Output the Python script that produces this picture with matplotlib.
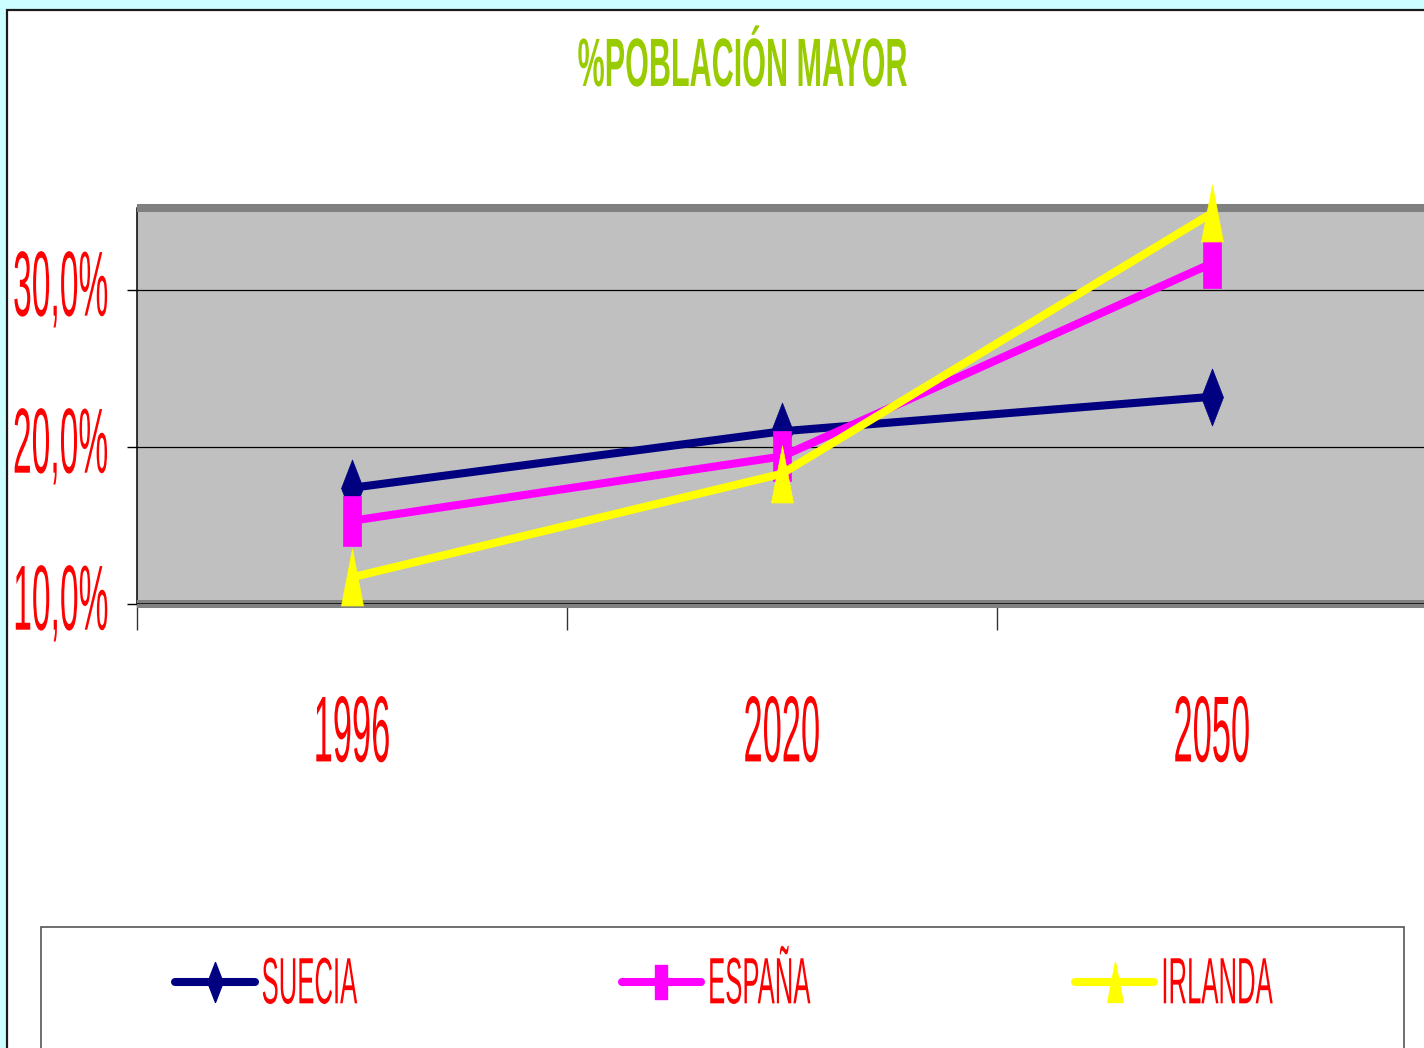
import matplotlib
matplotlib.use("Agg")
import matplotlib.pyplot as plt
from matplotlib.patches import Rectangle
from matplotlib.path import Path
from matplotlib.lines import Line2D
from matplotlib.patheffects import AbstractPathEffect
from matplotlib.transforms import Affine2D
from matplotlib.ticker import FuncFormatter, FixedLocator

# datos (porcentaje de población mayor)
anios = ["1996", "2020", "2050"]
suecia = [17.4, 21.0, 23.2]
espana = [15.3, 19.4, 31.7]
irlanda = [11.7, 18.3, 34.9]
paises = ["SUECIA", "ESPAÑA", "IRLANDA"]
colores = ["#000080", "#FF00FF", "#FFFF00"]
y_ticks = [10, 20, 30]
titulo = "%POBLACIÓN MAYOR"

W, H = 1424, 1048
plt.rcParams['font.family'] = ['Liberation Sans', 'DejaVu Sans']


# el original tiene letras muy altas y estrechas -> estiro el texto en vertical
class Estirar(AbstractPathEffect):
    def __init__(self, sy, y0=36, dy=0):
        super().__init__()
        self.sy, self.y0, self.dy = sy, y0, dy

    def draw_path(self, renderer, gc, tpath, affine, rgbFace=None):
        t = (Affine2D().translate(0, -self.y0).scale(1, self.sy).translate(0, self.y0)
             + affine + Affine2D().translate(0, self.dy))
        renderer.draw_path(gc, tpath, t, rgbFace)


# marcadores alargados
def marcador(verts):
    return Path(verts + [verts[0]], [Path.MOVETO] + [Path.LINETO] * (len(verts) - 1) + [Path.CLOSEPOLY])

rombo = marcador([(0, 0.5), (0.193, 0), (0, -0.5), (-0.193, 0)])
cuadro = marcador([(-0.184, 0.5), (0.184, 0.5), (0.184, -0.5), (-0.184, -0.5)])
triangulo = marcador([(0, 0.5), (0.193, -0.5), (-0.193, -0.5)])

fig = plt.figure(figsize=(W / 100, H / 100), dpi=100, facecolor="#CCFFFF")

# fondo blanco del gráfico
fig.add_artist(Rectangle((6.5 / W, -0.05), 1.1, (H - 9.5) / H + 0.05, transform=fig.transFigure,
                         facecolor="white", edgecolor="#1a1a1a", lw=1.6, zorder=-2))
# caja de la leyenda
fig.add_artist(Rectangle((41 / W, -0.05), (1404 - 41) / W, (H - 927) / H + 0.05, transform=fig.transFigure,
                         facecolor="none", edgecolor="#555555", lw=1.2, zorder=-1))

ax = fig.add_axes([137 / W, (H - 604) / H, (1427 - 137) / W, (604 - 208) / H])
ax.set_facecolor("#C0C0C0")
x = range(len(anios))
series = [suecia, espana, irlanda]
marcas = [rombo, cuadro, triangulo]
tams = [41, 35.3, 41]
lineas = []
for vals, col, m, ms, nom in zip(series, colores, marcas, tams, paises):
    l, = ax.plot(x, vals, color=col, lw=5.8, marker=m, markersize=ms, markerfacecolor=col,
                 markeredgecolor=col, markeredgewidth=0.5, solid_capstyle="round",
                 clip_on=False, zorder=3, label=nom)
    lineas.append(l)

ax.set_xlim(-0.5, 2.5)
ax.set_ylim(10, 10 + 396 / 15.7)

# ejes y bordes
ax.spines["right"].set_visible(False)
for s in ["top", "bottom"]:
    ax.spines[s].set_color("#808080")
    ax.spines[s].set_linewidth(5.8)
    ax.spines[s].set_capstyle("butt")
ax.spines["left"].set_color("black")
ax.spines["left"].set_linewidth(1.1)
ax.axhline(10, color="black", lw=1.1, zorder=2.6)

ax.set_yticks(y_ticks)
ax.yaxis.set_major_formatter(FuncFormatter(lambda v, _: f"{v:.1f}%".replace(".", ",")))
ax.yaxis.grid(True, color="black", lw=0.9)
ax.tick_params(axis="y", direction="out", length=7.2, width=1, color="black", pad=13,
               labelsize=24.2, labelcolor="red")

ax.xaxis.set_major_locator(FixedLocator([-0.5, 0.5, 1.5, 2.5]))
ax.xaxis.set_major_formatter(FuncFormatter(lambda v, _: ""))
ax.set_xticks(list(x), anios, minor=True)
ax.tick_params(axis="x", which="major", direction="out", length=18.7, width=1, color="#333333")
ax.tick_params(axis="x", which="minor", length=0, pad=80.7, labelsize=24.8, labelcolor="red")

for t in ax.get_yticklabels():
    t.set_path_effects([Estirar(2.75, dy=7.5)])
for t in ax.get_xticklabels(minor=True):
    t.set_path_effects([Estirar(2.72)])

# titulo
fig.text(742 / W, 1 - 86 / H, titulo, ha="center", va="baseline", fontsize=22, fontweight="bold",
         color="#99CC00", path_effects=[Estirar(2.24, y0=0)])

# leyenda
handles = [Line2D([], [], color=l.get_color(), lw=5.8, marker=l.get_marker(), markersize=l.get_markersize(),
                  markerfacecolor=l.get_color(), markeredgecolor=l.get_color(), solid_capstyle="round")
           for l in lineas]
leg = fig.legend(handles, paises, loc="center", bbox_to_anchor=(175 / W, 1 - 984 / H, (1273 - 175) / W, 0),
                 mode="expand", ncol=3, frameon=False, borderpad=0, borderaxespad=0,
                 handlelength=3.1, handletextpad=0.27, markerscale=0.7, numpoints=1,
                 fontsize=18.5, labelcolor="red")
for t in leg.get_texts():
    t.set_path_effects([Estirar(2.55, dy=2)])

fig.savefig("out.png", dpi=100, facecolor=fig.get_facecolor())
